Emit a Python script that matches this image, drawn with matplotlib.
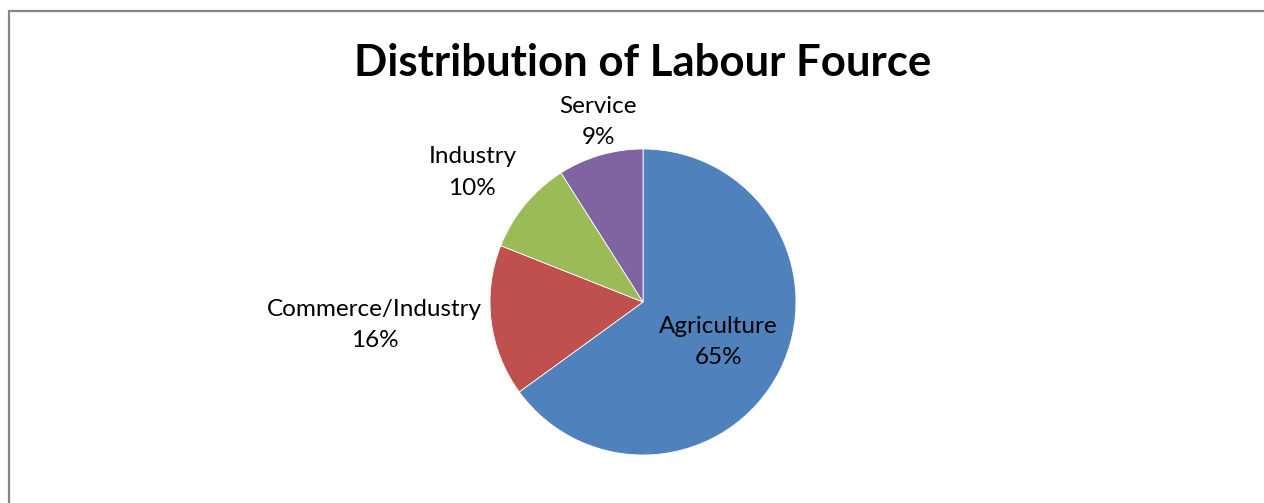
import numpy as np
import matplotlib
matplotlib.use("agg")
from matplotlib import pyplot as plt
from matplotlib.patches import Rectangle

# data
categories = ["Agriculture", "Commerce/Industry", "Industry", "Service"]
shares = [65, 16, 10, 9]
colors = ["#4F81BD", "#C0504D", "#9BBB59", "#8064A2"]
title = "Distribution of Labour Fource"

W, H = 1264, 503
fig = plt.figure(figsize=(W / 100, H / 100), dpi=100)
ax = fig.add_axes([0, 0, 1, 1])

# chart border (right and bottom edges run off the image)
ax.add_patch(Rectangle((9, -20), W + 20, H - 11 + 20, fill=False,
                       edgecolor="#868686", linewidth=1.6, clip_on=False))

cx, cy, r = 643, H - 302, 153
wedges, _ = ax.pie(shares, colors=colors, startangle=90, counterclock=False,
                   center=(cx, cy), radius=r, frame=True,
                   wedgeprops=dict(edgecolor="white", linewidth=0.6))
ax.set_xlim(0, W)
ax.set_ylim(0, H)
ax.set_aspect("equal")
ax.axis("off")

# label distances as fraction of radius, with small angle tweaks (deg)
dists = [0.56, 1.76, 1.40, 1.21]
tweak = [-1.0, -2.3, 2.4, -2.2]
font = "Lato"
for w, name, v, d, t in zip(wedges, categories, shares, dists, tweak):
    ang = np.deg2rad((w.theta1 + w.theta2) / 2 + t)
    x = cx + d * r * np.cos(ang)
    y = cy + d * r * np.sin(ang)
    ax.text(x, y, f"{name}\n{v}%", ha="center", va="center", fontsize=17.5,
            family=font, linespacing=1.6, color="black")

fig.text(643 / W, 1 - 63 / H, title, ha="center", va="center",
         fontsize=31.5, fontweight="bold", family=font)

fig.savefig("out.png", dpi=100)
